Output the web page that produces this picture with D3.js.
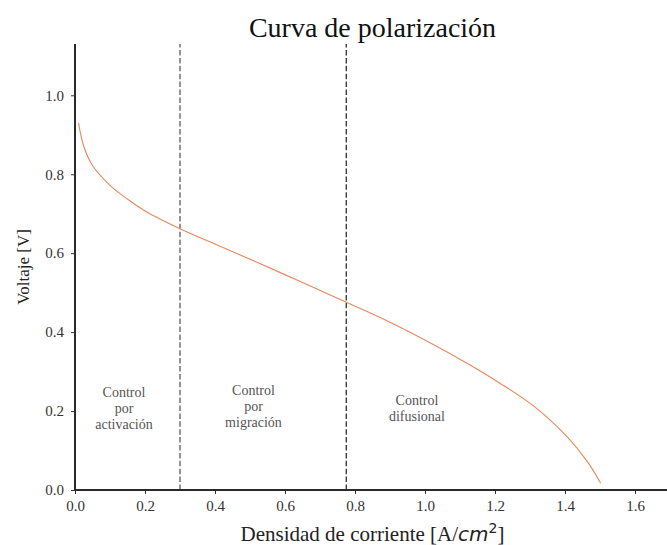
<!DOCTYPE html>
<html>
<head>
<meta charset="utf-8">
<script src="https://cdn.jsdelivr.net/npm/d3@7"></script>
<style>
    body { margin: 0; background: #fff; }
    svg { display: block; }
</style>
</head>
<body>
<div id="chart"></div>
<script>
// curve: current density [A/cm2] and voltage [V]
const currentDensity = [0.01, 0.025, 0.05, 0.10, 0.15, 0.20, 0.30, 0.40, 0.53, 0.644, 0.777, 0.90, 1.025, 1.12, 1.215, 1.31, 1.407, 1.464, 1.502];
const voltage        = [0.93, 0.871, 0.822, 0.772, 0.737, 0.707, 0.662, 0.623, 0.573, 0.528, 0.475, 0.425, 0.368, 0.321, 0.270, 0.213, 0.134, 0.072, 0.017];

const xTicks = [0, 0.2, 0.4, 0.6, 0.8, 1.0, 1.2, 1.4, 1.6];
const yTicks = [0, 0.2, 0.4, 0.6, 0.8, 1.0];

// region limits (dashed lines)
const regionLimits = [0.3, 0.775];
const regionLabels = [
    ["Control", "por", "activación"],
    ["Control", "por", "migración"],
    ["Control", "difusional"]
];
const regionLabelX = [0.14, 0.51, 0.977];
const regionLabelY = [0.249, 0.254, 0.228];

const W = 667, H = 545;
const margin = {left: 75, top: 44, bottom: 55};
const serif = "'Liberation Serif', 'Times New Roman', serif";

const svg = d3.select("#chart")
    .append("svg")
    .attr("width", W)
    .attr("height", H)

const x = d3.scaleLinear()
    .domain([0, 1.7])
    .range([margin.left, margin.left + 1.7 * 350]);

const y = d3.scaleLinear()
    .domain([0, 1.13])
    .range([H - margin.bottom, margin.top]);

// dashed region limits
svg.append("g")
    .selectAll("line")
    .data(regionLimits)
    .enter().append("line")
    .attr("x1", d => x(d))
    .attr("x2", d => x(d))
    .attr("y1", y(0))
    .attr("y2", y(1.13))
    .attr("stroke", (d, i) => i === 0 ? "#7a7a7a" : "#1e1e1e")
    .attr("stroke-width", (d, i) => i === 0 ? 1.6 : 1.2)
    .attr("stroke-dasharray", "5.5,2.4");

// polarization curve
const line = d3.line()
    .x(d => x(d[0]))
    .y(d => y(d[1]))
    .curve(d3.curveCatmullRom.alpha(0.5));

svg.append("path")
    .datum(currentDensity.map((c, i) => [c, voltage[i]]))
    .attr("d", line)
    .attr("fill", "none")
    .attr("stroke", "#e8885c")
    .attr("stroke-width", 1.1);

// region annotations
const notes = svg.append("g")
    .attr("font-family", serif)
    .attr("font-size", 14)
    .attr("fill", "#555")
    .attr("text-anchor", "middle");

regionLabels.forEach((lines, i) => {
    const t = notes.append("text")
        .attr("x", x(regionLabelX[i]))
        .attr("y", y(regionLabelY[i]));
    lines.forEach((s, j) => {
        t.append("tspan")
            .attr("x", x(regionLabelX[i]))
            .attr("dy", j === 0 ? "0.35em" : 16)
            .text(s);
    });
});

// axes
const xAxis = svg.append("g")
    .attr("transform", `translate(0,${y(0)})`)
    .call(d3.axisBottom(x).tickValues(xTicks).tickFormat(d3.format(".1f")).tickSize(4).tickPadding(6));

const yAxis = svg.append("g")
    .attr("transform", `translate(${x(0)},0)`)
    .call(d3.axisLeft(y).tickValues(yTicks).tickFormat(d3.format(".1f")).tickSize(4).tickPadding(7));

[xAxis, yAxis].forEach(ax => {
    ax.attr("font-family", serif);
    ax.select(".domain").remove();
    ax.selectAll(".tick line").attr("stroke", "#333").attr("stroke-width", 1);
    ax.selectAll(".tick text")
        .attr("font-family", serif)
        .attr("font-size", 15)
        .attr("fill", "#333");
});

// spines drawn as plain lines so they end where the chart ends
svg.append("line")
    .attr("x1", x(0)).attr("x2", W)
    .attr("y1", y(0)).attr("y2", y(0))
    .attr("stroke", "#2a2a2a").attr("stroke-width", 2);
svg.append("line")
    .attr("x1", x(0)).attr("x2", x(0))
    .attr("y1", y(0)).attr("y2", y(1.13))
    .attr("stroke", "#2a2a2a").attr("stroke-width", 2);

// title and labels
svg.append("text")
    .attr("x", (x(0) + x(1.7)) / 2)
    .attr("y", 37)
    .attr("text-anchor", "middle")
    .attr("font-family", serif)
    .attr("font-size", 28)
    .attr("fill", "#111")
    .text("Curva de polarización");

const xlabel = svg.append("text")
    .attr("x", (x(0) + x(1.7)) / 2)
    .attr("y", 541)
    .attr("text-anchor", "middle")
    .attr("font-family", serif)
    .attr("font-size", 21)
    .attr("fill", "#222");
xlabel.append("tspan").text("Densidad de corriente [A/");
xlabel.append("tspan")
    .attr("font-family", "'DejaVu Sans', sans-serif")
    .attr("font-style", "italic")
    .attr("font-size", 20)
    .text("cm");
xlabel.append("tspan")
    .attr("font-family", "'DejaVu Sans', sans-serif")
    .attr("font-size", 14)
    .attr("dy", -8)
    .text("2");
xlabel.append("tspan")
    .attr("dy", 8)
    .text("]");

svg.append("text")
    .attr("transform", `translate(23,${(y(0) + y(1.13)) / 2}) rotate(-90)`)
    .attr("text-anchor", "middle")
    .attr("dy", "0.35em")
    .attr("font-family", serif)
    .attr("font-size", 17)
    .attr("fill", "#222")
    .text("Voltaje [V]");
</script>
</body>
</html>
